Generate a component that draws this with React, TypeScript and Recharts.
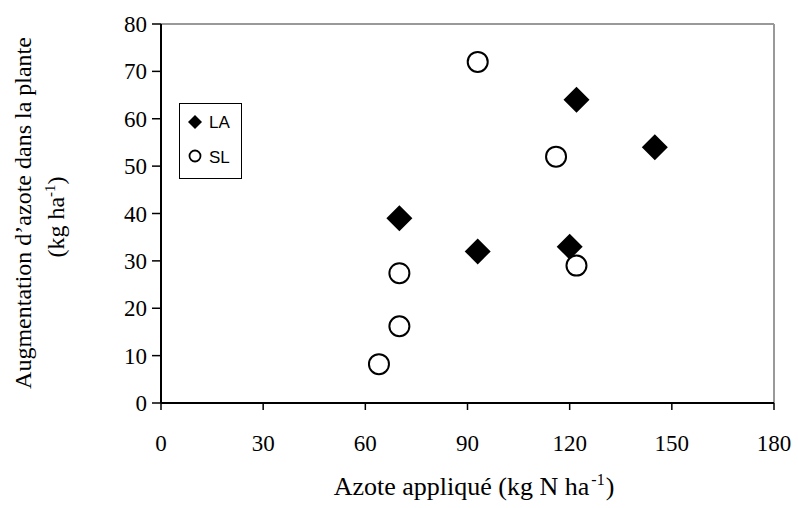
import {
    ScatterChart,
    Scatter,
    XAxis,
    YAxis,
    ReferenceLine,
    Legend,
    Label
} from "recharts";

const laPoints = [
    { x: 70, y: 39 },
    { x: 93, y: 32 },
    { x: 120, y: 33 },
    { x: 122, y: 64 },
    { x: 145, y: 54 }
];

const slPoints = [
    { x: 93, y: 72 },
    { x: 116, y: 52 },
    { x: 122, y: 29 },
    { x: 70, y: 27.4 },
    { x: 70, y: 16.2 },
    { x: 64, y: 8.2 }
];

const xTicks = [0, 30, 60, 90, 120, 150, 180];
const yTicks = [0, 10, 20, 30, 40, 50, 60, 70, 80];

const serif = "Liberation Serif";
const sans = "Liberation Sans";

const Diamond = (props: any) => {
    const { cx, cy } = props;
    const r = 13;
    return (
        <path
            d={`M${cx},${cy - r} L${cx + r},${cy} L${cx},${cy + r} L${cx - r},${cy} Z`}
            fill="#000"
        />
    );
};

const Ring = (props: any) => {
    const { cx, cy } = props;
    return <circle cx={cx} cy={cy} r={10} fill="#fff" stroke="#000" strokeWidth={2} />;
};

const renderXTick = (props: any) => {
    const { x, y, payload } = props;
    return (
        <g>
            <text x={x} y={y + 39} textAnchor="middle" style={{ fontFamily: serif, fontSize: 23 }} fill="#000">
                {payload.value}
            </text>
        </g>
    );
};

const renderYTick = (props: any) => {
    const { x, y, payload } = props;
    return (
        <g>
            <text x={x} y={y + 8} textAnchor="end" style={{ fontFamily: serif, fontSize: 23 }} fill="#000">
                {payload.value}
            </text>
        </g>
    );
};

const XTitle = () => (
    <text x={474} y={495} textAnchor="middle" style={{ fontFamily: serif, fontSize: 26 }} fill="#000">
        Azote appliqué (kg N ha
        <tspan dx={2} dy={-10} fontSize={16}>-1</tspan>
        <tspan dx={1} dy={10}>)</tspan>
    </text>
);

const YTitle = () => (
    <g style={{ fontFamily: serif, fontSize: 24 }} fill="#000">
        <text x={31} y={213} textAnchor="middle" transform="rotate(-90, 31, 213)">
            Augmentation d’azote dans la plante
        </text>
        <text x={64} y={217} textAnchor="middle" transform="rotate(-90, 64, 217)">
            (kg ha
            <tspan dy={-9} fontSize={15}>-1</tspan>
            <tspan dy={9}>)</tspan>
        </text>
    </g>
);

const LegendBox = () => (
    <div
        style={{
            width: 63,
            height: 76,
            boxSizing: "border-box",
            border: "1.5px solid #000",
            position: "relative"
        }}
    >
        <svg width={63} height={76} style={{ position: "absolute", left: -1.5, top: -1.5 }}>
            <path d="M16,12 L23,19 L16,26 L9,19 Z" fill="#000" />
            <circle cx={16} cy={53} r={5.5} fill="#fff" stroke="#000" strokeWidth={1.8} />
            <text x={30} y={25} style={{ fontFamily: sans, fontSize: 17 }}>LA</text>
            <text x={30} y={60} style={{ fontFamily: sans, fontSize: 17 }}>SL</text>
        </svg>
    </div>
);

export default function App() {
    return (
        <div style={{ position: "absolute", left: 0, top: 0 }}>
            <ScatterChart
                width={798}
                height={508}
                margin={{ top: 24, right: 24, bottom: 0, left: 0 }}
            >
                <XAxis
                    type="number"
                    dataKey="x"
                    domain={[0, 180]}
                    ticks={xTicks}
                    tick={renderXTick}
                    tickSize={7}
                    tickMargin={2}
                    height={105}
                    axisLine={{ stroke: "#000", strokeWidth: 2 }}
                    tickLine={{ stroke: "#000", strokeWidth: 1.5 }}
                    interval={0}
                >
                    <Label content={<XTitle />} />
                </XAxis>
                <YAxis
                    type="number"
                    dataKey="y"
                    domain={[0, 80]}
                    ticks={yTicks}
                    tick={renderYTick}
                    tickSize={9}
                    tickMargin={5}
                    width={161}
                    axisLine={{ stroke: "#000", strokeWidth: 2 }}
                    tickLine={{ stroke: "#000", strokeWidth: 1.5 }}
                    interval={0}
                >
                    <Label content={<YTitle />} />
                </YAxis>
                <ReferenceLine y={80} stroke="#999" strokeWidth={2} />
                <ReferenceLine x={180} stroke="#999" strokeWidth={2} />
                <Legend
                    layout="horizontal"
                    verticalAlign="middle"
                    align="center"
                    content={<LegendBox />}
                    wrapperStyle={{ left: 179, top: 103, width: 63, height: 76 }}
                />
                <Scatter name="LA" data={laPoints} shape={<Diamond />} isAnimationActive={false} />
                <Scatter name="SL" data={slPoints} shape={<Ring />} isAnimationActive={false} />
            </ScatterChart>
        </div>
    );
}
